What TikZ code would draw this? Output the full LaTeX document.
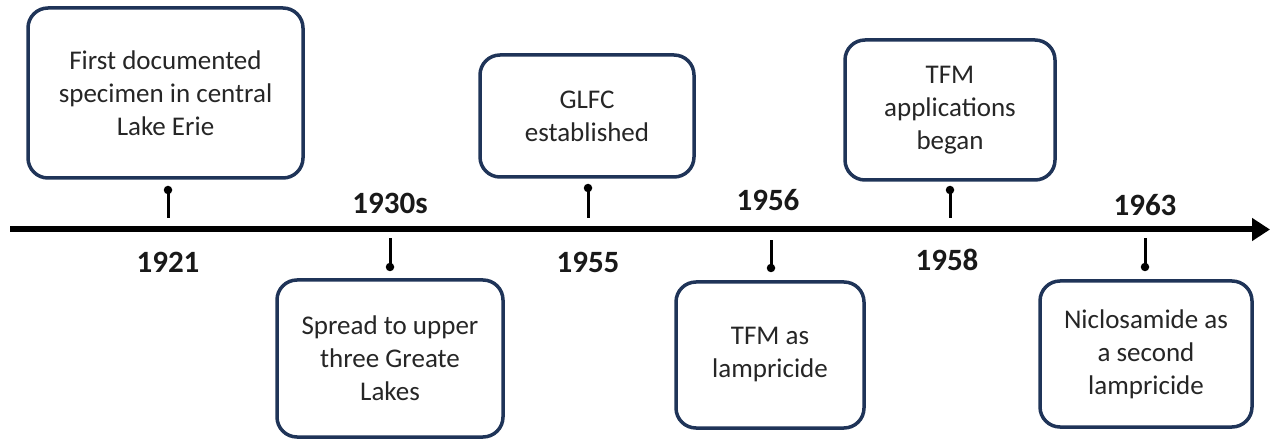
\documentclass[tikz,border=0pt]{standalone}
\usepackage{fontspec}
\setmainfont{Carlito}
\usetikzlibrary{arrows.meta}
\definecolor{boxnavy}{HTML}{1F3458}
\definecolor{txtgray}{HTML}{262626}
\tikzset{
  evbox/.style={draw=boxnavy, line width=3.5pt, rounded corners=20pt, fill=white,
    align=center, text=txtgray, inner sep=0pt,
    font=\fontsize{27}{33}\selectfont},
  yearlbl/.style={font=\fontsize{31}{36}\selectfont\bfseries, text=black!90, inner sep=0pt},
  stemdot/.style={circle, fill=black, inner sep=0pt, minimum size=8.5pt},
  stemline/.style={line width=3pt, black},
  axisline/.style={line width=6pt, black, -{Triangle[length=18pt,width=22pt]}}
}
\begin{document}
\begin{tikzpicture}[x=1pt,y=1pt]
\useasboundingbox (0,0) rectangle (1271,439);
% axis
\coordinate (axL) at (10,209.5);
\coordinate (axR) at (1270,209.5);
\draw[axisline] (axL) -- (axR);

% boxes
\node[evbox, minimum width=275pt, minimum height=170pt] (b1) at (165.5,346) {First documented\\specimen in central\\Lake Erie};
\node[evbox, minimum width=226pt, minimum height=157pt] (b2) at (390,80.5) {Spread to upper\\three Greate\\Lakes};
\node[evbox, minimum width=214pt, minimum height=122pt] (b3) at (587,323) {GLFC\\established};
\node[evbox, minimum width=188pt, minimum height=146pt] (b4) at (770,84) {TFM as\\lampricide};
\node[evbox, minimum width=210pt, minimum height=140pt] (b5) at (950,329) {TFM\\applications\\began};
\node[evbox, minimum width=212pt, minimum height=146pt] (b6) at (1146,85) {Niclosamide as\\a second\\lampricide};

% stems (upper)
\node[stemdot] (d1) at (168,249) {};
\coordinate (s1) at (168,221);
\draw[stemline] (d1.center) -- (s1);
\node[stemdot] (d3) at (588,251) {};
\coordinate (s3) at (588,221);
\draw[stemline] (d3.center) -- (s3);
\node[stemdot] (d5) at (950,249) {};
\coordinate (s5) at (950,221);
\draw[stemline] (d5.center) -- (s5);
% stems (lower)
\node[stemdot] (d2) at (390,172) {};
\coordinate (s2) at (390,201);
\draw[stemline] (d2.center) -- (s2);
\node[stemdot] (d4) at (771,171) {};
\coordinate (s4) at (771,199);
\draw[stemline] (d4.center) -- (s4);
\node[stemdot] (d6) at (1145,172) {};
\coordinate (s6) at (1145,201);
\draw[stemline] (d6.center) -- (s6);

% years
\node[yearlbl] (y1) at (168,177) {1921};
\node[yearlbl] (y2) at (390,236) {1930s};
\node[yearlbl] (y3) at (588,177) {1955};
\node[yearlbl] (y4) at (768,239) {1956};
\node[yearlbl] (y5) at (947,179) {1958};
\node[yearlbl] (y6) at (1145,234) {1963};
\end{tikzpicture}
\end{document}
